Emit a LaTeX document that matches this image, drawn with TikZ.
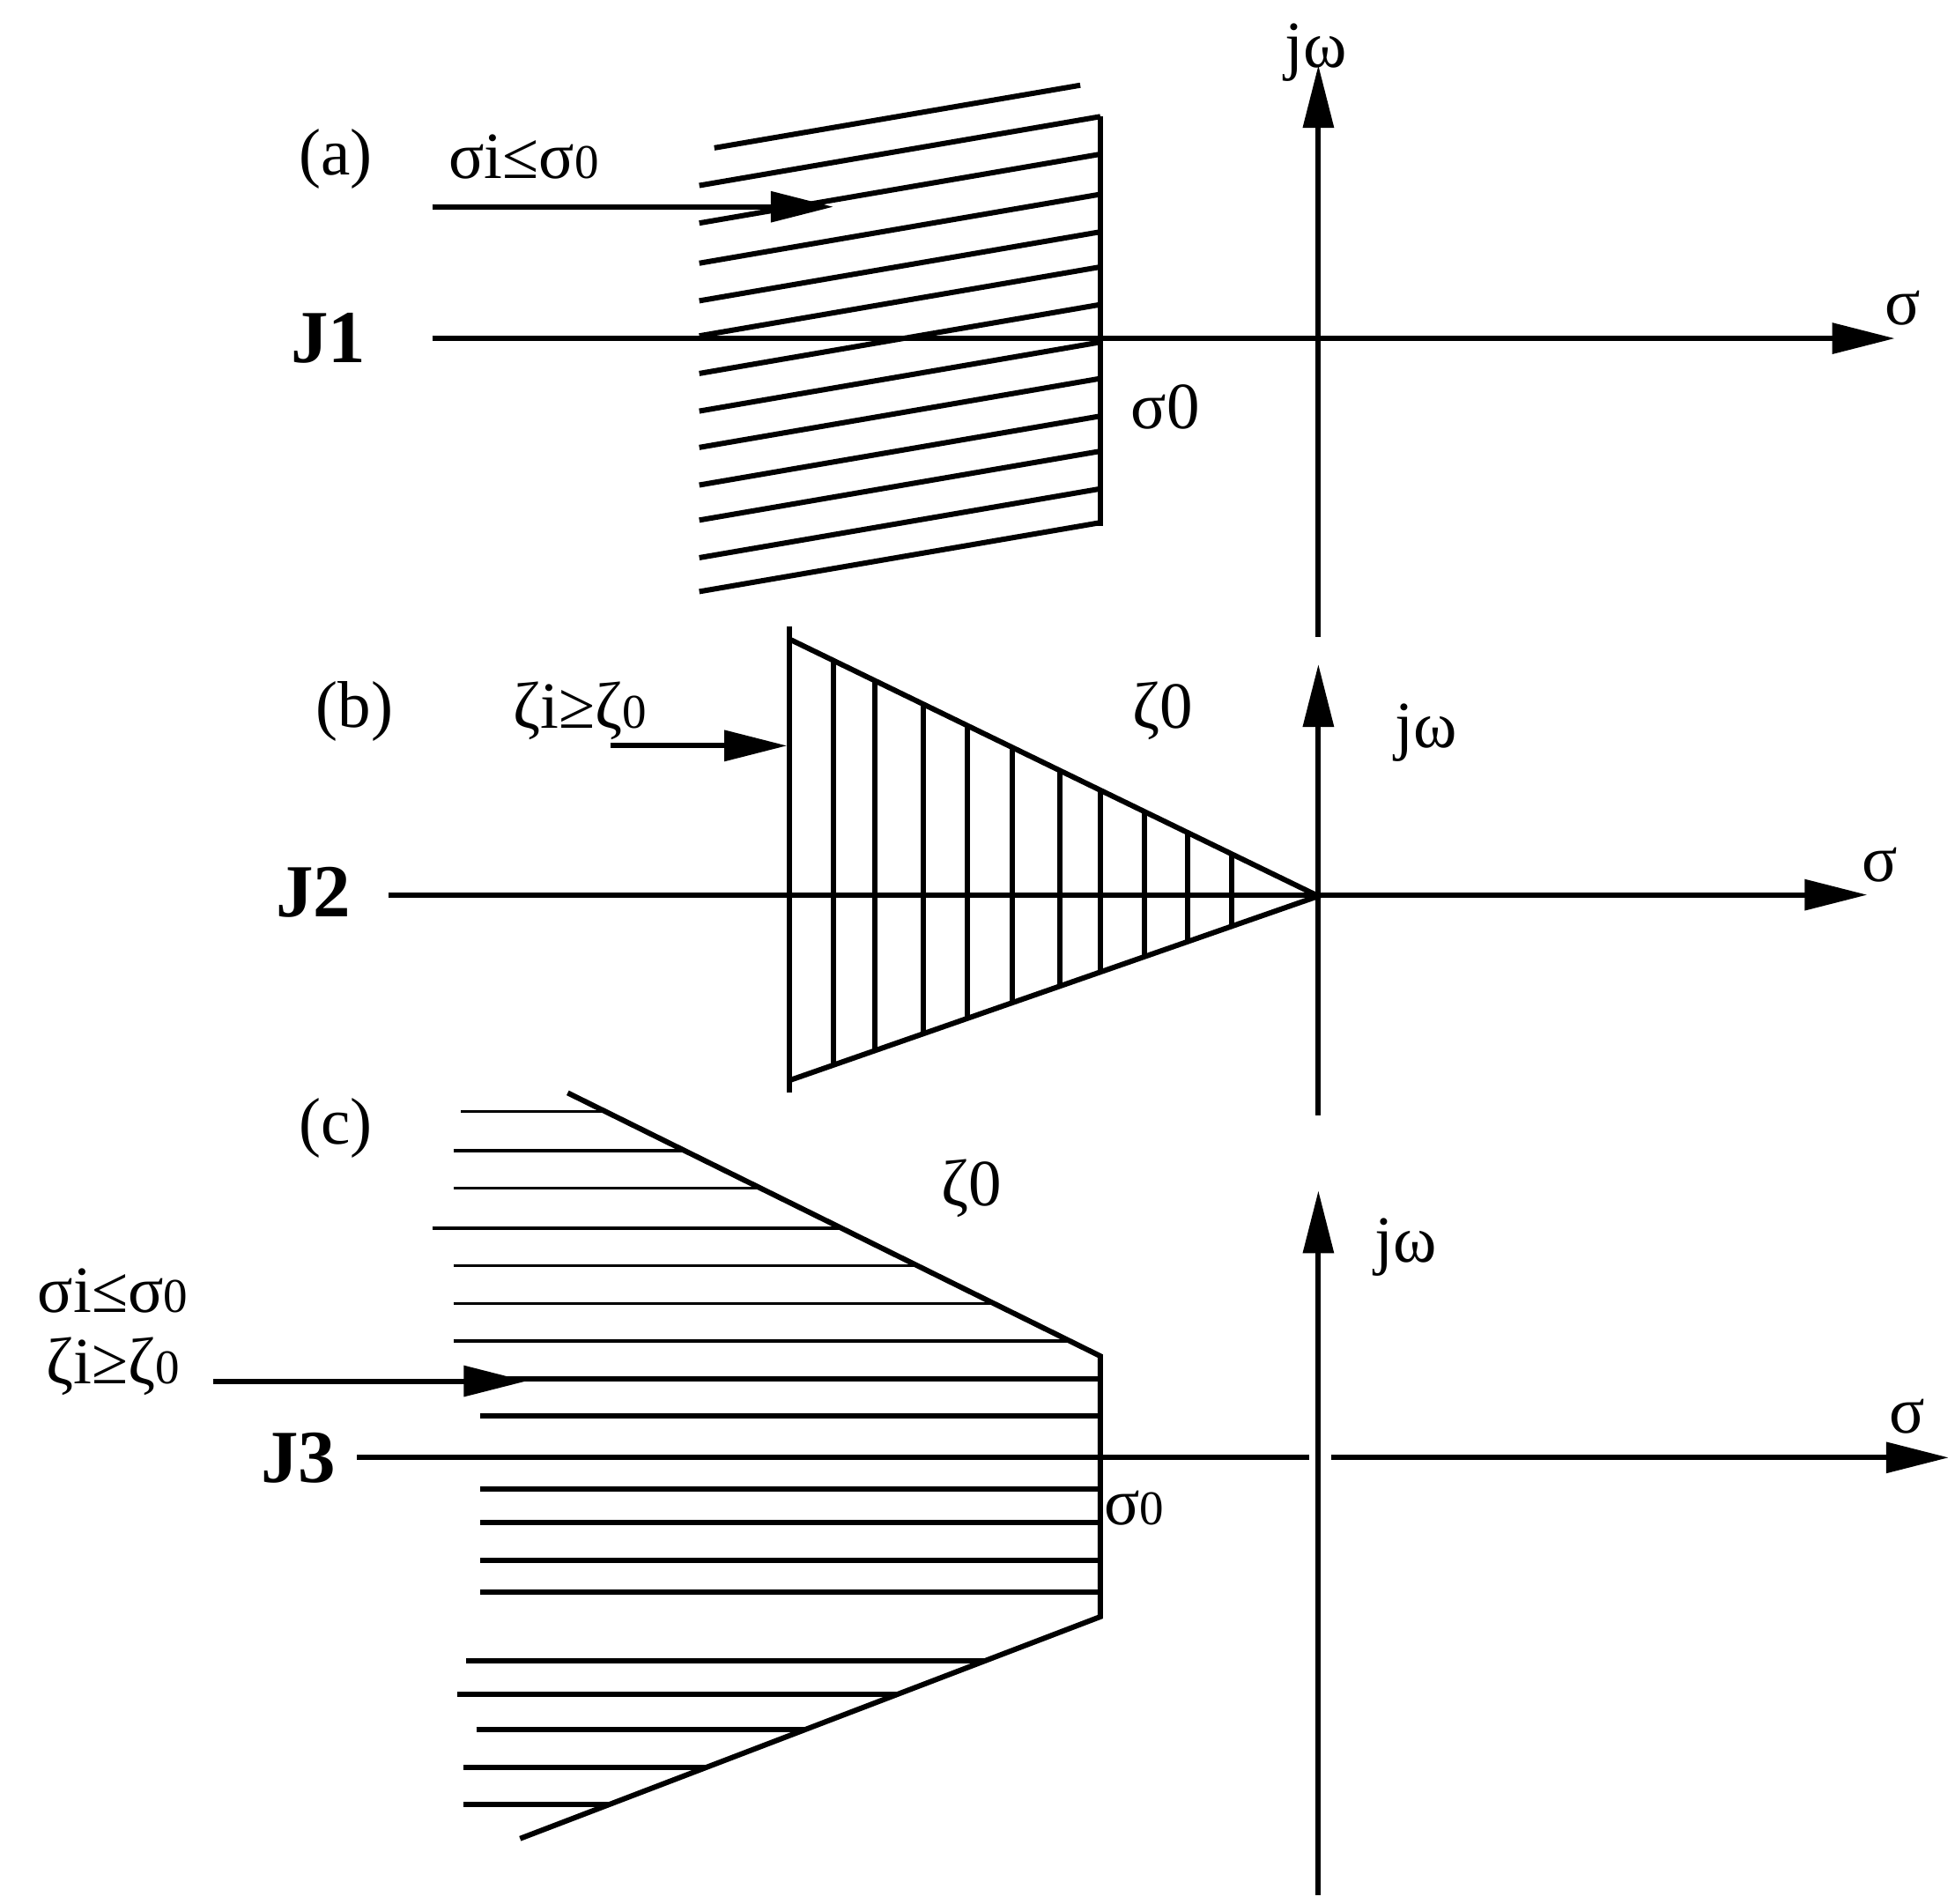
\documentclass[tikz,border=0pt]{standalone}
\usepackage{fontspec}
\setmainfont{Liberation Serif}
\usetikzlibrary{arrows.meta}
\newcommand{\zs}{{\fontsize{11}{12}\selectfont 0}}
\begin{document}
\begin{tikzpicture}[x=0.1mm,y=-0.1mm,
  ln/.style={line width=1.2pt},
  thin/.style={line width=0.7pt},
  ax/.style={line width=1.2pt,-{Triangle[length=5mm,width=2.4mm]}},
  lab/.style={font=\fontsize{15}{18}\selectfont,inner sep=0pt},
  big/.style={font=\fontsize{17}{18}\selectfont\bfseries,inner sep=0pt}]
\useasboundingbox (0,0) rectangle (1560,1519);
% ---- (a)
\draw[ln] (570,118) -- (862,68);
\foreach \y in {148,178,210,240,268,298,328,357,387,415,445,472}
  \draw[ln] (558,\y) -- (878,\y-55);
\draw[ln] (878,93) -- (878,420);
\draw[ax] (345,270) -- (1512,270);
\draw[ax] (1052,508) -- (1052,52);
\draw[ax] (345,165) -- (665,165);
\node[lab] (a) at (268,127) {(a)};
\node[lab] (ca) at (418,125) {σi≤σ\zs};
\node[big] (J1) at (262,270) {J1};
\node[lab] (s0a) at (930,325) {σ0};
\node[lab] (jwa) at (1050,42) {jω};
\node[lab] (sa) at (1518,246) {σ};
% ---- (b)
\draw[ln] (630,500) -- (630,872);
\draw[ln] (630,510) -- (1052,715) -- (630,862);
\foreach \x in {665,698,737,772,808,846,878,913,948,983}
  \draw[ln] (\x,{510+(\x-630)/422*205}) -- (\x,{862-(\x-630)/422*147});
\draw[ax] (310,714) -- (1490,714);
\draw[ax] (1052,890) -- (1052,530);
\draw[ax] (487,595) -- (628,595);
\node[lab] (b) at (283,568) {(b)};
\node[lab] (cb) at (463,567) {ζi≥ζ\zs};
\node[lab] (z0b) at (928,567) {ζ0};
\node[lab] (jwb) at (1138,585) {jω};
\node[lab] (sb) at (1500,690) {σ};
\node[big] (J2) at (250,712) {J2};
% ---- (c)
\draw[ln] (453,872) -- (878,1082) -- (878,1290) -- (415,1467);
\foreach \y/\l in {887/368,918/362,948/362,980/345,1010/362,1040/362,1070/362}
  \draw[thin] (\l,\y) -- ({453+(\y-872)/210*425},\y);
\foreach \y/\l in {1100/380,1130/383,1188/383,1215/383,1245/383,1270/383}
  \draw[ln] (\l,\y) -- (878,\y);
\foreach \y/\l in {1325/372,1352/365,1380/380,1410/370,1440/370}
  \draw[ln] (\l,\y) -- ({878-(\y-1290)/177*463},\y);
\draw[ln] (285,1163) -- (1045,1163);
\draw[ax] (1062,1163) -- (1555,1163);
\draw[ax] (1052,1512) -- (1052,950);
\draw[ax] (170,1102) -- (420,1102);
\node[lab] (c) at (268,900) {(c)};
\node[lab] (z0c) at (775,948) {ζ0};
\node[lab] (c1) at (90,1030) {σi≤σ\zs};
\node[lab] (c2) at (90,1090) {ζi≥ζ\zs};
\node[big] (J3) at (238,1163) {J3};
\node[lab] (s0c) at (905,1203) {σ\zs};
\node[lab] (jwc) at (1122,995) {jω};
\node[lab] (sc) at (1522,1130) {σ};
\end{tikzpicture}
\end{document}
